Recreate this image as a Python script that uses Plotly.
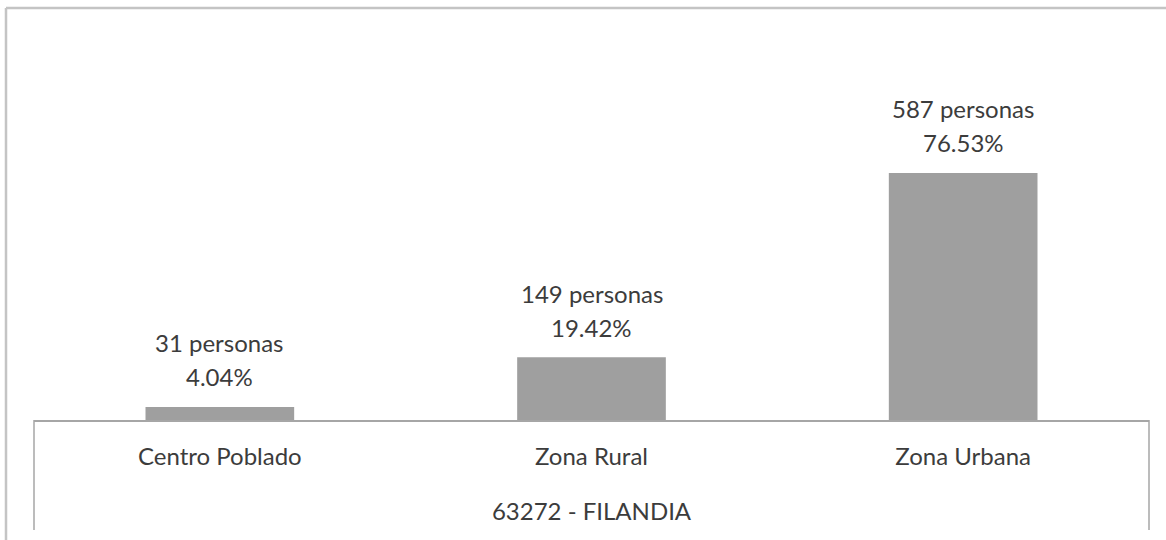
import plotly.graph_objects as go

categories = ["Centro Poblado", "Zona Rural", "Zona Urbana"]
personas = [31, 149, 587]
porcentajes = ["4.04%", "19.42%", "76.53%"]
axis_title = "63272 - FILANDIA"

W, H = 1166, 540
ML, MR, MT, MB = 34, 17, 125, 120
PW = W - ML - MR
PH = H - MT - MB

def px(x):
    return (x - ML) / PW

def py(y):
    return (H - MB - y) / PH

font_family = "Lato, 'Open Sans', sans-serif"
txt_color = "#3c3c3c"
FS = 24

fig = go.Figure()
fig.add_trace(go.Bar(
    x=categories, y=personas,
    marker=dict(color="#9f9f9f", line=dict(width=0)),
    hoverinfo="skip",
))

annotations = []
for c, v, p in zip(categories, personas, porcentajes):
    annotations.append(dict(x=c, y=v, xref="x", yref="y", text=f"{v} personas",
                            showarrow=False, yshift=64, font=dict(size=FS, color=txt_color)))
    annotations.append(dict(x=c, y=v, xref="x", yref="y", text=p,
                            showarrow=False, yshift=30, font=dict(size=FS, color=txt_color)))

shapes = [
    # outer border (top and left)
    dict(type="line", xref="paper", yref="paper", x0=px(6), x1=px(1170), y0=py(8), y1=py(8),
         line=dict(color="#c4c4c4", width=2.5)),
    dict(type="line", xref="paper", yref="paper", x0=px(6), x1=px(6), y0=py(8), y1=py(545),
         line=dict(color="#c4c4c4", width=2.5)),
    # category axis box sides
    dict(type="line", xref="paper", yref="paper", x0=0, x1=0, y0=0, y1=py(530),
         line=dict(color="#a6a6a6", width=1.5)),
    dict(type="line", xref="paper", yref="paper", x0=1, x1=1, y0=0, y1=py(530),
         line=dict(color="#a6a6a6", width=1.5)),
]

fig.update_layout(
    width=W, height=H,
    margin=dict(l=ML, r=MR, t=MT, b=MB),
    paper_bgcolor="white", plot_bgcolor="white",
    font=dict(family=font_family, size=FS, color=txt_color),
    bargap=0.6,
    showlegend=False,
    annotations=annotations,
    shapes=shapes,
    xaxis=dict(
        showline=True, linecolor="#a6a6a6", linewidth=1.5,
        ticks="", showgrid=False,
        ticklabelstandoff=14,
        tickfont=dict(size=FS, color=txt_color),
        title=dict(text=axis_title, font=dict(size=FS, color=txt_color), standoff=35),
    ),
    yaxis=dict(range=[0, 701], visible=False, showgrid=False, zeroline=False),
)

fig.write_html("out.html", config={"displayModeBar": False},
               post_script="document.body.style.margin='0';")
